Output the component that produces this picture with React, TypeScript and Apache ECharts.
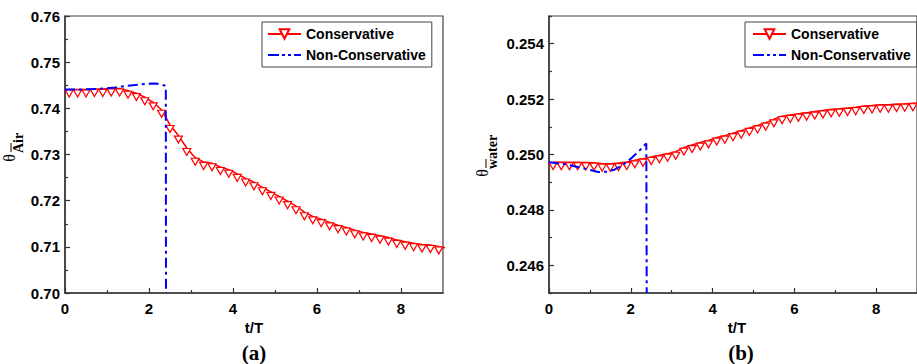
import React, { useEffect, useRef } from "react";
import * as echarts from "echarts";

// ---- data ----
const tCons = [0.1, 0.3, 0.5, 0.7, 0.9, 1.1, 1.3, 1.5, 1.7, 1.9, 2.1, 2.3, 2.5, 2.7, 2.9, 3.1, 3.3, 3.5, 3.7, 3.9, 4.1, 4.3, 4.5, 4.7, 4.9, 5.1, 5.3, 5.5, 5.7, 5.9, 6.1, 6.3, 6.5, 6.7, 6.9, 7.1, 7.3, 7.5, 7.7, 7.9, 8.1, 8.3, 8.5, 8.7, 8.9, 9.1];
const airCons = [
  0.7441, 0.7441, 0.7441, 0.7442, 0.7442, 0.7443, 0.7443, 0.7438, 0.7433, 0.7424,
  0.7413, 0.7397, 0.7364, 0.7341, 0.7314, 0.7293, 0.7284, 0.7281, 0.7273, 0.7267,
  0.7258, 0.7248, 0.724, 0.7229, 0.7219, 0.7209, 0.7199, 0.7188, 0.7175, 0.7166,
  0.716, 0.7153, 0.7147, 0.7142, 0.7136, 0.7131, 0.7128, 0.7124, 0.712, 0.7115,
  0.7111, 0.7108, 0.7105, 0.7104, 0.7101, 0.7097,
];
const tNonAir = [0, 0.4, 0.8, 1.2, 1.5, 1.8, 2.1, 2.25, 2.38, 2.4, 2.405];
const airNon = [0.7441, 0.7441, 0.7442, 0.7445, 0.7449, 0.7452, 0.7454, 0.7453, 0.7449, 0.7448, 0.7];

const waterCons = [
  0.24973, 0.24972, 0.24972, 0.24972, 0.24971, 0.2497, 0.24967, 0.24967, 0.24969, 0.24973,
  0.24979, 0.24985, 0.24991, 0.24997, 0.25003, 0.2501, 0.25025, 0.25034, 0.25043, 0.25051,
  0.25061, 0.25068, 0.25077, 0.25086, 0.25096, 0.25105, 0.25115, 0.25127, 0.25138, 0.25143,
  0.25147, 0.25151, 0.25155, 0.25159, 0.25163, 0.25165, 0.25168, 0.25171, 0.25175, 0.25177,
  0.2518, 0.2518, 0.25182, 0.25183, 0.25185, 0.25187,
];
const tNonWater = [0, 0.4, 0.7, 1.0, 1.2, 1.4, 1.6, 1.8, 2.0, 2.2, 2.38, 2.39];
const waterNon = [0.24972, 0.24965, 0.24955, 0.24944, 0.24937, 0.24938, 0.24945, 0.24962, 0.24985, 0.25012, 0.2504, 0.245];

const xMajor = [0, 2, 4, 6, 8];
const xMinor = [1, 3, 5, 7];
const waterMajor = [0.246, 0.248, 0.25, 0.252, 0.254];
const waterMinor = [0.245, 0.247, 0.249, 0.251, 0.253, 0.255];
const legendNames = ["Conservative", "Non-Conservative"];

const SANS = "Liberation Sans";
const SERIF = "Liberation Serif";
const AX = "#333";

const triPath = "path://M0,0L10,0L5,8.66Z";
const dashDotIcon = "path://M0,0h11v2h-11z M14,0h3v2h-3z M20,0h3v2h-3z M26,0h7v2h-7z";

function zip(a: number[], b: number[]) {
  return a.map((v, i) => [v, b[i]]);
}

function xMain(grid: number) {
  return {
    type: "value", gridIndex: grid, min: 0, max: 9, position: "bottom",
    axisLine: { show: true, onZero: false, lineStyle: { color: AX, width: 1.5 } },
    axisTick: { show: true, inside: true, length: 5, customValues: xMajor, lineStyle: { color: AX, width: 1.2 } },
    axisLabel: { customValues: xMajor, margin: 8, fontFamily: SANS, fontWeight: "bold", fontSize: 15, color: "#000" },
    splitLine: { show: false },
  };
}
function xMin(grid: number) {
  return {
    type: "value", gridIndex: grid, min: 0, max: 9, position: "bottom",
    axisLine: { show: false },
    axisTick: { show: true, inside: true, length: 3, customValues: xMinor, lineStyle: { color: AX, width: 1.2 } },
    axisLabel: { show: false },
    splitLine: { show: false },
  };
}

function consSeries(name: string, xi: number, yi: number, data: number[][]) {
  return {
    type: "line", name, xAxisIndex: xi, yAxisIndex: yi, data,
    symbol: triPath, symbolSize: [8, 7], symbolOffset: [0, 4], showAllSymbol: true,
    lineStyle: { color: "#ff0000", width: 1.5 },
    itemStyle: { color: "#ffffff", borderColor: "#ff0000", borderWidth: 1.2 },
    clip: true, z: 2,
  };
}
function nonSeries(name: string, xi: number, yi: number, data: number[][]) {
  return {
    type: "line", name, xAxisIndex: xi, yAxisIndex: yi, data,
    symbol: "none", showSymbol: false,
    lineStyle: { color: "#0000ff", width: 2, type: [10, 4, 3, 4] },
    itemStyle: { color: "#0000ff" },
    clip: true, z: 3,
  };
}

function legendAt(left: number, padLeft: number) {
  return {
    left, top: 22, orient: "vertical", itemWidth: 33, itemHeight: 12, itemGap: 7,
    padding: [5, 6, 5, padLeft], borderColor: "#444", borderWidth: 1,
    textStyle: { fontFamily: SANS, fontWeight: "bold", fontSize: 14, color: "#000" },
    data: [
      { name: legendNames[0] },
      { name: legendNames[1], icon: dashDotIcon, itemStyle: { color: "#0000ff" } },
    ],
    selectedMode: false,
  };
}

export default function App() {
  const ref = useRef<HTMLDivElement>(null);
  useEffect(() => {
    if (!ref.current) return;
    const chart = echarts.init(ref.current, null, { renderer: "svg" });
    const option: any = {
      animation: false,
      backgroundColor: "#fff",
      grid: [
        { left: 65, top: 16, width: 378, height: 277, show: true, borderColor: "#444", borderWidth: 1.2, backgroundColor: "transparent" },
        { left: 549, top: 16, width: 377, height: 277, show: true, borderColor: "#444", borderWidth: 1.2, backgroundColor: "transparent" },
      ],
      xAxis: [xMain(0), xMin(0), xMain(1), xMin(1)],
      yAxis: [
        {
          type: "value", gridIndex: 0, min: 0.7, max: 0.76, interval: 0.01, position: "left",
          axisLine: { show: true, onZero: false, lineStyle: { color: AX, width: 1.5 } },
          axisTick: { show: true, inside: true, length: 5, lineStyle: { color: AX, width: 1.2 } },
          minorTick: { show: true, splitNumber: 2, length: 3, lineStyle: { color: AX, width: 1.2 } },
          axisLabel: { margin: 5, fontFamily: SANS, fontWeight: "bold", fontSize: 15, color: "#000", formatter: (v: number) => v.toFixed(2) },
          splitLine: { show: false },
        },
        {
          type: "value", gridIndex: 1, min: 0.245, max: 0.255, position: "left",
          axisLine: { show: true, onZero: false, lineStyle: { color: AX, width: 1.5 } },
          axisTick: { show: true, inside: true, length: 5, customValues: waterMajor, lineStyle: { color: AX, width: 1.2 } },
          axisLabel: { customValues: waterMajor, margin: 5, fontFamily: SANS, fontWeight: "bold", fontSize: 15, color: "#000", formatter: (v: number) => v.toFixed(3) },
          splitLine: { show: false },
        },
        {
          type: "value", gridIndex: 1, min: 0.245, max: 0.255, position: "left",
          axisLine: { show: false },
          axisTick: { show: true, inside: true, length: 3, customValues: waterMinor, lineStyle: { color: AX, width: 1.2 } },
          axisLabel: { show: false },
          splitLine: { show: false },
        },
      ],
      legend: [legendAt(262, 5), legendAt(745, 7)],
      series: [
        consSeries("Conservative", 0, 0, zip(tCons, airCons)),
        nonSeries("Non-Conservative", 0, 0, zip(tNonAir, airNon)),
        consSeries("Conservative", 2, 1, zip(tCons, waterCons)),
        nonSeries("Non-Conservative", 2, 1, zip(tNonWater, waterNon)),
      ],
      graphic: [
        { type: "text", x: 254, y: 327, style: { text: "t/T", fontFamily: SANS, fontWeight: "bold", fontSize: 15, fill: "#000", align: "center", verticalAlign: "middle" } },
        { type: "text", x: 737, y: 327, style: { text: "t/T", fontFamily: SANS, fontWeight: "bold", fontSize: 15, fill: "#000", align: "center", verticalAlign: "middle" } },
        { type: "text", x: 254, y: 353, style: { text: "(a)", fontFamily: SERIF, fontWeight: "bold", fontSize: 21, fill: "#000", align: "center", verticalAlign: "middle" } },
        { type: "text", x: 741, y: 353, style: { text: "(b)", fontFamily: SERIF, fontWeight: "bold", fontSize: 21, fill: "#000", align: "center", verticalAlign: "middle" } },
        // left y title
        { type: "text", x: 9, y: 158, rotation: Math.PI / 2, style: { text: "θ", fontFamily: SERIF, fontSize: 16, fill: "#000", align: "center", verticalAlign: "middle" } },
        { type: "text", x: 18, y: 143, rotation: Math.PI / 2, style: { text: "Air", fontFamily: SERIF, fontWeight: "bold", fontSize: 14, fill: "#000", align: "center", verticalAlign: "middle" } },
        { type: "line", shape: { x1: 11, y1: 143, x2: 11, y2: 152 }, style: { stroke: "#000", lineWidth: 1 } },
        // right y title
        { type: "text", x: 482, y: 173, rotation: Math.PI / 2, style: { text: "θ", fontFamily: SERIF, fontSize: 16, fill: "#000", align: "center", verticalAlign: "middle" } },
        { type: "text", x: 492, y: 152, rotation: Math.PI / 2, style: { text: "water", fontFamily: SERIF, fontWeight: "bold", fontSize: 14, fill: "#000", align: "center", verticalAlign: "middle" } },
        { type: "line", shape: { x1: 486, y1: 159, x2: 486, y2: 168 }, style: { stroke: "#000", lineWidth: 1 } },
      ],
    };
    chart.setOption(option);
    return () => chart.dispose();
  }, []);
  return <div ref={ref} style={{ position: "absolute", left: 0, top: 0, width: 917, height: 364 }} />;
}
